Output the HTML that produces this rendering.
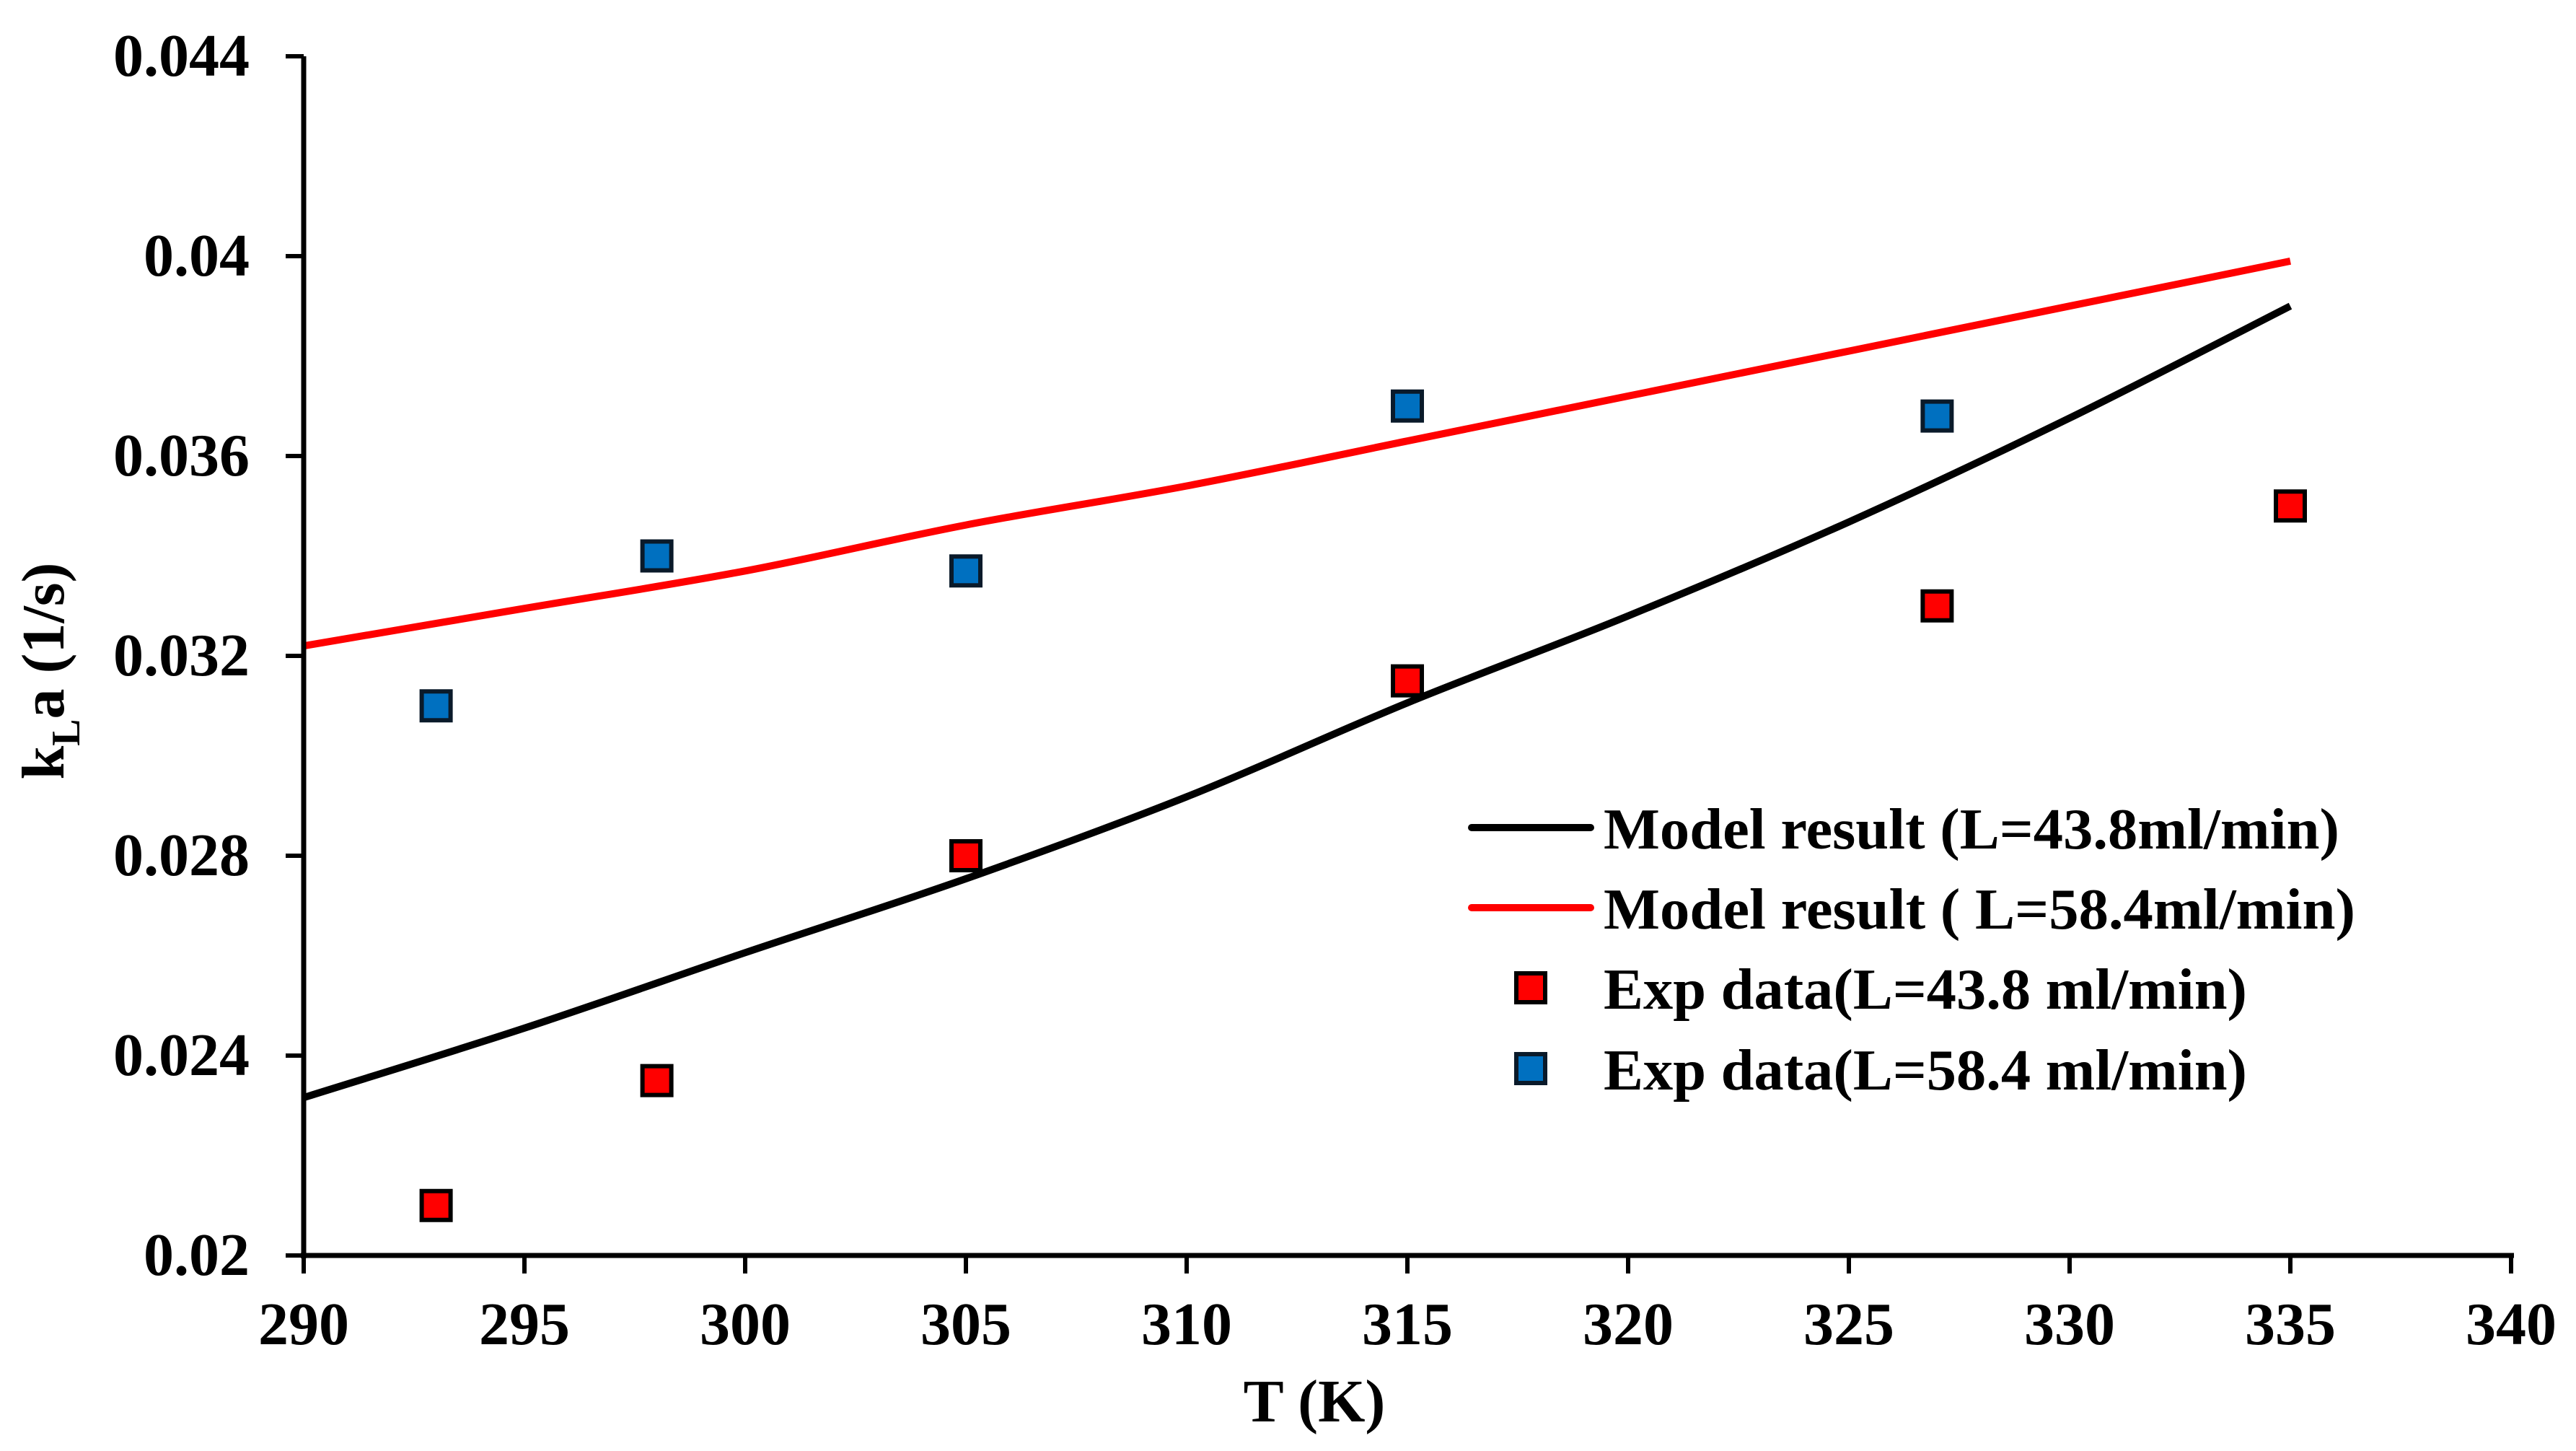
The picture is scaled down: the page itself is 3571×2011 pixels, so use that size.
<!DOCTYPE html>
<html><head><meta charset="utf-8"><style>
html,body{margin:0;padding:0;background:#fff}
svg{display:block}
text{font-family:"Liberation Serif",serif;font-weight:bold;fill:#000}
</style></head><body>
<svg id="chart" width="3571" height="2011" viewBox="0 0 3571 2011" xmlns="http://www.w3.org/2000/svg">
<g id="grid-layer"></g>
<g id="lines-layer"></g>
<g id="points-layer"></g>
<g id="axes-layer"></g>
<g id="legend">
  <line x1="2040" y1="1147" x2="2205" y2="1147" stroke="#000" stroke-width="10" stroke-linecap="round"/>
  <text x="2223" y="1176" font-size="80" textLength="1020" lengthAdjust="spacingAndGlyphs">Model result (L=43.8ml/min)</text>
  <line x1="2040" y1="1258" x2="2205" y2="1258" stroke="#ff0000" stroke-width="10" stroke-linecap="round"/>
  <text x="2223" y="1287" font-size="80" textLength="1042" lengthAdjust="spacingAndGlyphs">Model result ( L=58.4ml/min)</text>
  <rect x="2102" y="1349" width="40" height="40" fill="#ff0000" stroke="#000" stroke-width="6"/>
  <text x="2223" y="1398" font-size="80" textLength="892" lengthAdjust="spacingAndGlyphs">Exp data(L=43.8 ml/min)</text>
  <rect x="2102" y="1461" width="40" height="40" fill="#0070c0" stroke="#0a1a2a" stroke-width="6"/>
  <text x="2223" y="1510" font-size="80" textLength="892" lengthAdjust="spacingAndGlyphs">Exp data(L=58.4 ml/min)</text>
</g>
<text x="1822" y="1970" font-size="84" text-anchor="middle">T (K)</text>
<text transform="translate(88,930) rotate(-90)" font-size="84" text-anchor="middle">k<tspan font-size="56" dy="22">L</tspan><tspan dy="-22">a (1/s)</tspan></text>
</svg>
<script>
const xTicks = [290,295,300,305,310,315,320,325,330,335,340];
const yTicks = [0.02,0.024,0.028,0.032,0.036,0.04,0.044];
const yTickLabels = ["0.02","0.024","0.028","0.032","0.036","0.04","0.044"];
const modelT = [290,295,300,305,310,315,320,325,330,335];
const model43 = [0.02316,0.02455,0.02606,0.02754,0.02918,0.03106,0.0328,0.03468,0.03676,0.039];
const model58 = [0.0322,0.03295,0.0337,0.03462,0.0354,0.0363,0.0372,0.0381,0.039,0.0399];
const exp43T = [293,298,305,315,327,335];
const exp43 = [0.021,0.0235,0.028,0.0315,0.033,0.035];
const exp58T = [293,298,305,315,327];
const exp58 = [0.031,0.034,0.0337,0.037,0.0368];

const NS="http://www.w3.org/2000/svg";
const X0=421,X1=3481,Y0=1740,Y1=78;
function xs(v){return X0+(v-290)/(340-290)*(X1-X0);}
function ys(v){return Y0-(v-0.02)/(0.044-0.02)*(Y0-Y1);}
function mk(tag,attrs,parent){const e=document.createElementNS(NS,tag);for(const k in attrs)e.setAttribute(k,attrs[k]);parent.appendChild(e);return e;}
const axes=document.getElementById('axes-layer');
const lines=document.getElementById('lines-layer');
const pts=document.getElementById('points-layer');

let a=mk('line',{x1:X0,y1:Y1,x2:X0,y2:Y0+4,stroke:'#000','stroke-width':7},axes);


a=mk('line',{x1:X0-4,y1:Y0,x2:X1+4,y2:Y0,stroke:'#000','stroke-width':7},axes);



xTicks.forEach(t=>{
  const x=xs(t);
  const l=mk('line',{x1:x,y1:Y0,x2:x,y2:Y0+25,stroke:'#000','stroke-width':6},axes);
  
  
  const tx=mk('text',{x:x,y:1863,'font-size':84,'text-anchor':'middle'},axes);
  tx.textContent=String(t);
  
  
});
yTicks.forEach((t,i)=>{
  const y=ys(t);
  const l=mk('line',{x1:X0-25,y1:y,x2:X0,y2:y,stroke:'#000','stroke-width':6},axes);
  
  
  const tx=mk('text',{x:346,y:y+27,'font-size':84,'text-anchor':'end'},axes);
  tx.textContent=yTickLabels[i];
  
  
});

function path(T,V,color,name){
  const P=T.map((t,i)=>[xs(t),ys(V[i])]);
  let d='M'+P[0][0].toFixed(1)+' '+P[0][1].toFixed(1);
  for(let i=0;i<P.length-1;i++){
    const p0=P[Math.max(i-1,0)],p1=P[i],p2=P[i+1],p3=P[Math.min(i+2,P.length-1)];
    const c1=[p1[0]+(p2[0]-p0[0])/6,p1[1]+(p2[1]-p0[1])/6];
    const c2=[p2[0]-(p3[0]-p1[0])/6,p2[1]-(p3[1]-p1[1])/6];
    d+=' C'+c1[0].toFixed(1)+' '+c1[1].toFixed(1)+' '+c2[0].toFixed(1)+' '+c2[1].toFixed(1)+' '+p2[0].toFixed(1)+' '+p2[1].toFixed(1);
  }
  const p=mk('path',{d:d,fill:'none',stroke:color,'stroke-width':10,'stroke-linejoin':'round'},lines);
  
  
}
path(modelT,model43,'#000','model-line-43-8');
path(modelT,model58,'#ff0000','model-line-58-4');

function points(T,V,fill,stroke,name){
  T.forEach((t,i)=>{
    const r=mk('rect',{x:xs(t)-20,y:ys(V[i])-20,width:40,height:40,fill:fill,stroke:stroke,'stroke-width':6},pts);
    
    
  });
}
points(exp43T,exp43,'#ff0000','#000','exp-point-43-8');
points(exp58T,exp58,'#0070c0','#0a1a2a','exp-point-58-4');
</script>
</body></html>
